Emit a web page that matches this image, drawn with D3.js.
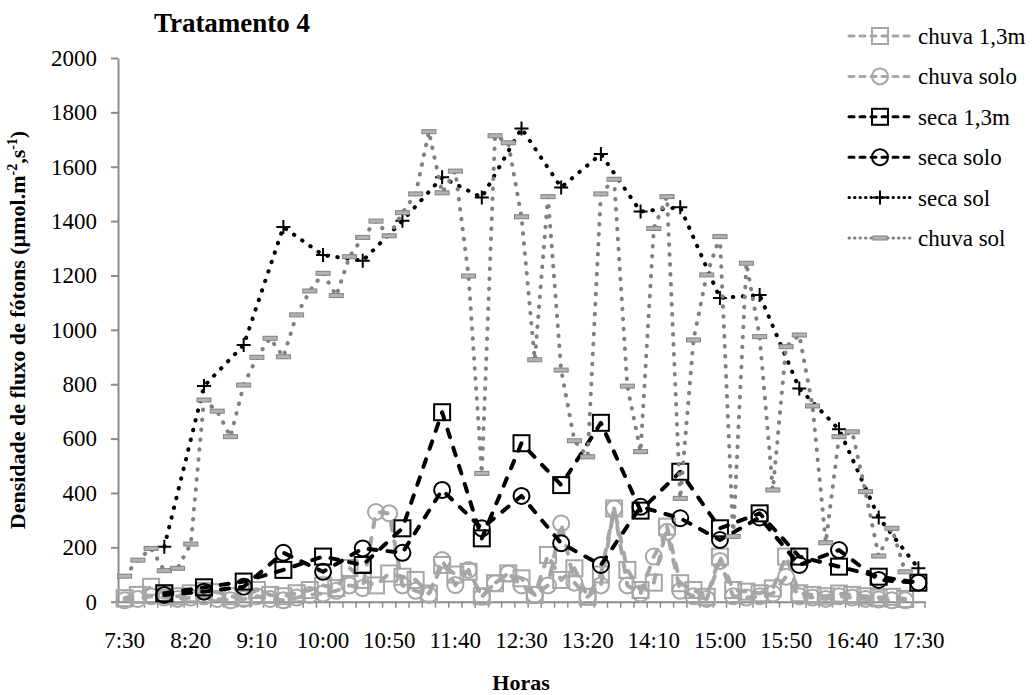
<!DOCTYPE html>
<html>
<head>
<meta charset="utf-8">
<script src="https://cdn.jsdelivr.net/npm/d3@7"></script>
<style>
  body { margin: 0; background: #fff; }
  text { font-family: "Liberation Serif", "Times New Roman", serif; }
</style>
</head>
<body>
<div id="chart"></div>
<script>
var horas = ["7:30","7:40","7:50","8:00","8:10","8:20","8:30","8:40","8:50","9:00","9:10","9:20","9:30","9:40","9:50",
  "10:00","10:10","10:20","10:30","10:40","10:50","11:00","11:10","11:20","11:30","11:40","11:50","12:00","12:10","12:20",
  "12:30","12:40","12:50","13:00","13:10","13:20","13:30","13:40","13:50","14:00","14:10","14:20","14:30","14:40","14:50",
  "15:00","15:10","15:20","15:30","15:40","15:50","16:00","16:10","16:20","16:30","16:40","16:50","17:00","17:10","17:20","17:30"];
var horasLabel = ["7:30","8:20","9:10","10:00","10:50","11:40","12:30","13:20","14:10","15:00","15:50","16:40","17:30"];
var yTicks = [0,200,400,600,800,1000,1200,1400,1600,1800,2000];

// chuva: every 10 min, 7:30 - 17:20
var chuva13 = [13,25,55,30,20,31,40,35,20,15,43,25,20,31,43,60,50,124,80,60,104,92,80,30,135,100,110,20,68,104,
  86,25,172,80,123,18,100,343,117,43,70,276,68,43,18,166,43,37,31,49,166,31,25,20,30,25,20,15,18,10];
var chuvaSolo = [5,10,20,15,10,15,20,10,5,10,20,10,5,15,25,30,40,60,50,330,325,60,40,25,153,61,117,18,68,104,
  60,25,60,288,70,18,60,343,60,30,166,257,40,20,10,150,20,15,20,30,92,20,15,10,20,15,10,8,5,5];
var chuvaSol = [94,153,196,114,123,212,742,701,607,797,899,969,901,1055,1143,1208,1126,1269,1340,1400,1346,1431,1500,1729,1504,1584,1198,472,1714,1688,
  1416,890,1490,852,592,533,1500,1554,793,552,1373,1490,380,963,1202,1343,240,1245,975,411,938,981,720,217,607,625,405,168,270,110];

// seca: every 30 min, 8:00 - 17:30
var secaHoras = ["8:00","8:30","9:00","9:30","10:00","10:30","11:00","11:30","12:00","12:30",
  "13:00","13:30","14:00","14:30","15:00","15:30","16:00","16:30","17:00","17:30"];
var seca13 = [31,53,74,117,166,135,270,697,233,583,429,658,335,478,270,325,166,129,92,70];
var secaSolo = [25,37,55,180,110,196,180,411,270,389,215,135,349,307,227,310,135,190,80,70];
var secaSol = [202,793,944,1378,1275,1254,1401,1561,1487,1741,1524,1647,1435,1451,1117,1128,784,634,310,123];

var W = 1032, H = 695;
var svg = d3.select("#chart").append("svg").attr("width", W).attr("height", H);

var x = d3.scaleBand().domain(horas).range([118, 925]).padding(0);
var y = d3.scaleLinear().domain([0, 2000]).range([601.7, 58]);
var bw = x.bandwidth();
var axisColor = "#8c8c8c";

// y axis
var yAxis = svg.append("g").attr("transform", "translate(118,0)")
  .call(d3.axisLeft(y).tickValues(yTicks).tickFormat(d3.format("d"))
    .tickSize(7).tickSizeOuter(0).tickPadding(14));
yAxis.select(".domain").attr("stroke", axisColor).attr("stroke-width", 2);
yAxis.selectAll(".tick line").attr("stroke", axisColor).attr("stroke-width", 2);
yAxis.selectAll(".tick text").attr("font-size", 23).attr("fill", "#000")
  .style("font-family", "'Liberation Serif', serif");

// x axis
var xAxis = svg.append("g").attr("transform", "translate(0,601.7)")
  .call(d3.axisBottom(x).tickValues(horasLabel).tickSize(0).tickSizeOuter(0).tickPadding(30));
xAxis.select(".domain").attr("stroke", axisColor).attr("stroke-width", 2);
xAxis.selectAll(".tick text").attr("font-size", 23).attr("fill", "#000")
  .style("font-family", "'Liberation Serif', serif");
xAxis.selectAll(".tickmark").data(horas.concat(["end"])).enter().append("line")
  .attr("class", "tickmark")
  .attr("x1", function (d) { return d === "end" ? x.range()[1] : x(d); })
  .attr("x2", function (d) { return d === "end" ? x.range()[1] : x(d); })
  .attr("y1", 0).attr("y2", 6)
  .attr("stroke", axisColor).attr("stroke-width", 1.5);

// titles
svg.append("text").attr("x", 232).attr("y", 32).attr("text-anchor", "middle")
  .attr("font-size", 27).attr("font-weight", "bold").text("Tratamento 4");
svg.append("text").attr("x", 521).attr("y", 690).attr("text-anchor", "middle")
  .attr("font-size", 22).attr("font-weight", "bold").text("Horas");
var yl = svg.append("text").attr("transform", "translate(25,330) rotate(-90)")
  .attr("text-anchor", "middle").attr("font-size", 22).attr("font-weight", "bold");
yl.append("tspan").text("Densidade de fluxo de fótons (µmol.m");
yl.append("tspan").attr("dy", -8).attr("font-size", 14).text("-2");
yl.append("tspan").attr("dy", 8).text(",s");
yl.append("tspan").attr("dy", -8).attr("font-size", 14).text("-1");
yl.append("tspan").attr("dy", 8).text(")");

function pairs(labels, vals) {
  return vals.map(function (v, i) { return { h: labels[i], v: v }; });
}
var px = function (d) { return x(d.h) + bw / 2; };
var py = function (d) { return y(d.v); };
var line = d3.line().x(px).y(py);

var series = [
  { name: "chuva 1,3m", data: pairs(horas, chuva13), color: "#a6a6a6", dash: "8,11", width: 4, marker: "square" },
  { name: "chuva solo", data: pairs(horas, chuvaSolo), color: "#a6a6a6", dash: "8,11", width: 4, marker: "circle" },
  { name: "seca 1,3m", data: pairs(secaHoras, seca13), color: "#000", dash: "8,11", width: 4, marker: "square" },
  { name: "seca solo", data: pairs(secaHoras, secaSolo), color: "#000", dash: "8,11", width: 4, marker: "circle" },
  { name: "seca sol", data: pairs(secaHoras, secaSol), color: "#000", dash: "0.5,9.5", width: 4, marker: "plus" },
  { name: "chuva sol", data: pairs(horas, chuvaSol), color: "#808080", dash: "0.5,9.5", width: 4, marker: "bar" }
];

function drawMarker(g, type, color) {
  if (type === "square") {
    g.append("rect").attr("x", -8).attr("y", -8).attr("width", 16).attr("height", 16)
      .attr("fill", "none").attr("stroke", color).attr("stroke-width", 2);
  } else if (type === "circle") {
    g.append("circle").attr("r", 8).attr("fill", "none").attr("stroke", color).attr("stroke-width", 2);
  } else if (type === "plus") {
    g.append("path").attr("d", "M-7,0H7M0,-7V7").attr("stroke", color).attr("stroke-width", 2);
  } else if (type === "bar") {
    g.append("rect").attr("x", -7).attr("y", -2).attr("width", 14).attr("height", 4)
      .attr("fill", "#b3b3b3").attr("stroke", color).attr("stroke-width", 1);
  }
}

series.forEach(function (s) {
  var g = svg.append("g");
  g.append("path").datum(s.data).attr("d", line)
    .attr("fill", "none").attr("stroke", s.color).attr("stroke-width", s.width)
    .attr("stroke-dasharray", s.dash).attr("stroke-linecap", "round").attr("stroke-linejoin", "round");
  g.selectAll(".m").data(s.data).enter().append("g").attr("class", "m")
    .attr("transform", function (d) { return "translate(" + px(d) + "," + py(d) + ")"; })
    .each(function () { drawMarker(d3.select(this), s.marker, s.color); });
});

// legend
var leg = svg.append("g").attr("transform", "translate(849,36)");
series.forEach(function (s, i) {
  var r = leg.append("g").attr("transform", "translate(0," + (i * 40.4) + ")");
  r.append("line").attr("x1", 0).attr("x2", 64).attr("y1", 0).attr("y2", 0)
    .attr("stroke", s.color).attr("stroke-width", 3)
    .attr("stroke-dasharray", s.marker === "plus" || s.marker === "bar" ? "0.5,5" : "5,6")
    .attr("stroke-linecap", "round");
  var m = r.append("g").attr("transform", "translate(31,0)");
  drawMarker(m, s.marker, s.color);
  r.append("text").attr("x", 69).attr("y", 0).attr("dy", "0.35em")
    .attr("font-size", 23).text(s.name);
});
</script>
</body>
</html>
